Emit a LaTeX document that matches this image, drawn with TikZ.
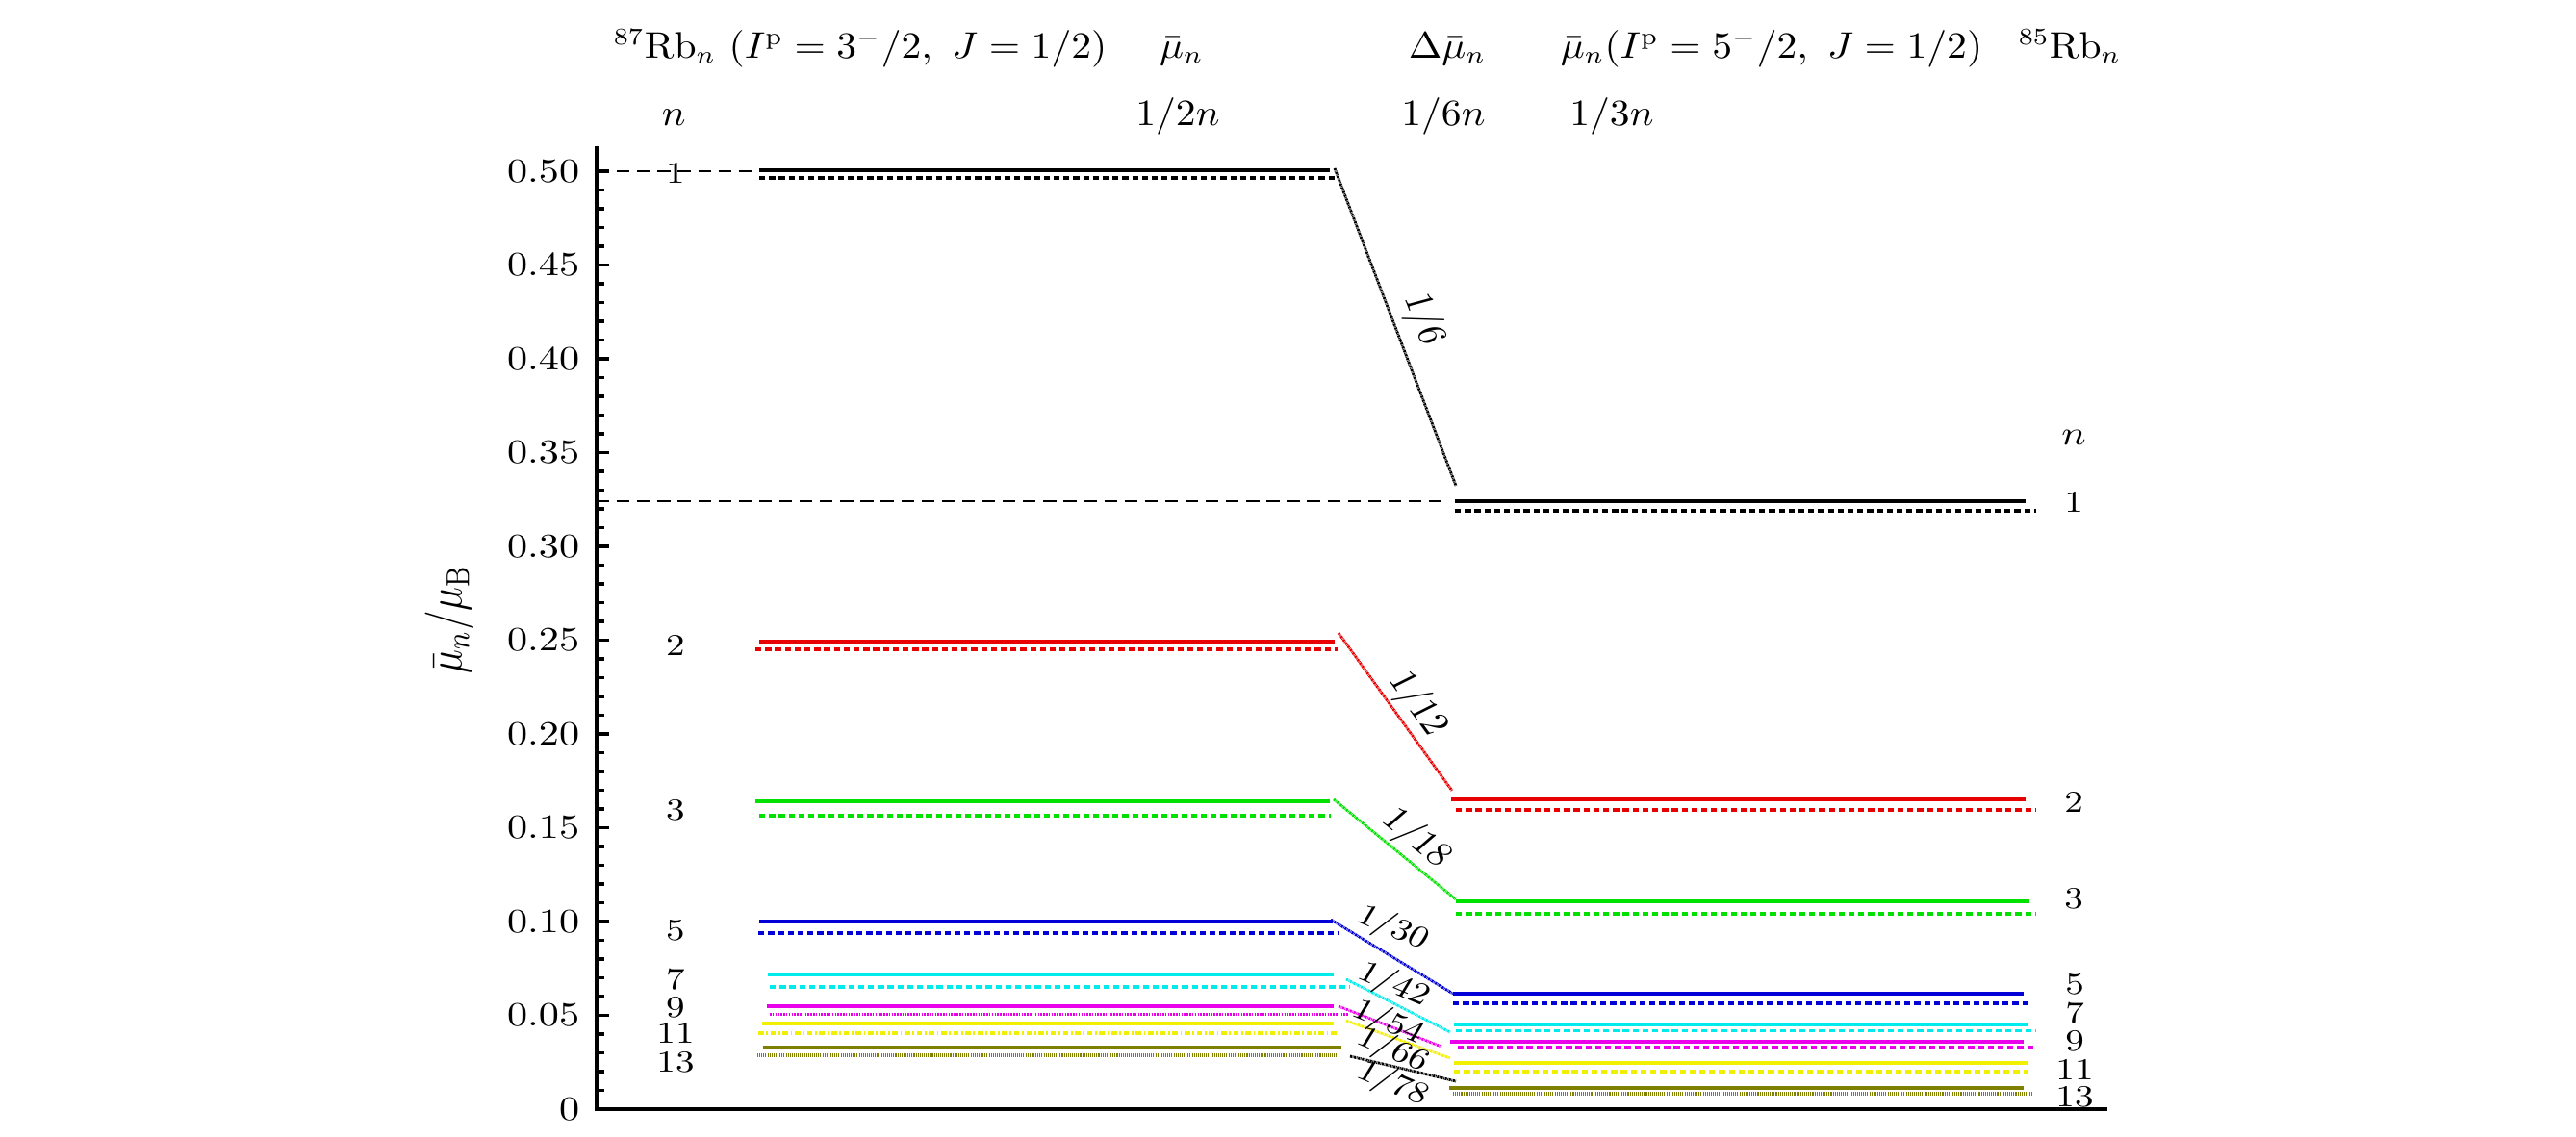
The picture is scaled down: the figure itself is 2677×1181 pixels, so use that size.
\documentclass[tikz,border=0pt]{standalone}
\usepackage{graphicx}
\definecolor{cR}{RGB}{232,0,0}
\definecolor{cG}{RGB}{0,225,0}
\definecolor{cB}{RGB}{0,0,215}
\definecolor{cC}{RGB}{0,235,235}
\definecolor{cM}{RGB}{235,0,235}
\definecolor{cY}{RGB}{240,240,0}
\definecolor{cO}{RGB}{128,128,0}
\begin{document}
\begin{tikzpicture}[x=0.01cm,y=-0.01cm,
  lvl/.style={line width=0.9pt},
  dsh/.style={line width=0.9pt,dash pattern=on 1.8pt off 1.1pt},
  dts/.style={line width=0.9pt,dash pattern=on 0.45pt off 0.35pt},
  fdt/.style={line width=1pt,dash pattern=on 0.3pt off 0.3pt},
  dshdt/.style={line width=0.9pt,dash pattern=on 1.6pt off 0.75pt on 0.5pt off 0.75pt},
  slant/.style={line width=0.8pt,dash pattern=on 0.6pt off 0.2pt on 0.2pt off 0.2pt},
  ldsh/.style={line width=0.8pt,dash pattern=on 3.8pt off 2.2pt},
  axisline/.style={line width=1pt},
  txt/.style={inner sep=0pt,xscale=1.2},
  head/.style={inner sep=0pt,xscale=1.08,font=\fontsize{10.5}{12}\selectfont},
  nlab/.style={txt,font=\small},
  bigfrac/.style={txt},
  smallfrac/.style={txt,font=\small}]
\useasboundingbox (0,0) rectangle (2677,1181);

% header
\node[head,anchor=base west] (h1) at (637,60) {$^{87}\mathrm{Rb}_n\ (I^{\mathrm{p}}=3^-/2,\ J=1/2)$};
\node[head,anchor=base] (h2) at (1228,60) {$\bar\mu_n$};
\node[head,anchor=base] (h3) at (1504,60) {$\Delta\bar\mu_n$};
\node[head,anchor=base west] (h4) at (1621,60) {$\bar\mu_n(I^{\mathrm{p}}=5^-/2,\ J=1/2)$};
\node[head,anchor=base west] (h5) at (2097,60) {$^{85}\mathrm{Rb}_n$};
\node[head,anchor=base] (s1) at (700,130) {$n$};
\node[head,anchor=base] (s2) at (1224,130) {$1/2n$};
\node[head,anchor=base] (s3) at (1500,130) {$1/6n$};
\node[head,anchor=base] (s4) at (1675,130) {$1/3n$};

% axes
\coordinate (ytop) at (620,152);
\coordinate (orig) at (620,1153);
\coordinate (xend) at (2190,1153);
\draw[axisline] (ytop) -- (orig) -- (xend);
\foreach \i in {1,...,50}{\draw[axisline] (620,{1153-19.5*\i}) -- ++(8,0);}
\foreach \i in {5,10,...,50}{\draw[axisline] (620,{1153-19.5*\i}) -- ++(13,0);}
\foreach \i/\t in {0/0,5/0.05,10/0.10,15/0.15,20/0.20,25/0.25,30/0.30,35/0.35,40/0.40,45/0.45,50/0.50}
  \node[txt,anchor=east] (tk\i) at (603,{1153-19.5*\i}) {$\t$};
\node[txt,rotate=90,font=\fontsize{11.5}{13}\selectfont] (ylab) at (467,644) {$\bar\mu_n/\mu_{\mathrm{B}}$};

% long dashed reference lines
\coordinate (a50) at (620,178);
\coordinate (b50) at (787,178);
\coordinate (a325) at (620,521);
\coordinate (b325) at (1500,521);
\draw[ldsh] (a50) -- (b50);
\draw[ldsh] (a325) -- (b325);

% left levels (87Rb)
\draw[lvl] (789,177) -- (1382,177);
\draw[dsh] (789,185) -- (1390,185);
\draw[lvl,cR] (789,667) -- (1387,667);
\draw[dsh,cR] (785,675) -- (1390,675);
\draw[lvl,cG] (785,833) -- (1382,833);
\draw[dsh,cG] (789,848) -- (1383,848);
\draw[lvl,cB] (789,958) -- (1385,958);
\draw[dsh,cB] (788,970) -- (1390,970);
\draw[lvl,cC] (798,1013) -- (1386,1013);
\draw[dsh,cC] (800,1026) -- (1403,1026);
\draw[lvl,cM] (797,1046) -- (1386,1046);
\draw[dts,cM] (800,1054.5) -- (1402,1054.5);
\draw[lvl,cY] (792,1064) -- (1386,1064);
\draw[dshdt,cY] (788,1074) -- (1391,1074);
\draw[lvl,cO] (793,1089) -- (1394,1089);
\draw[fdt,cO] (787,1097) -- (1390,1097);

% right levels (85Rb)
\draw[lvl] (1512,521) -- (2105,521);
\draw[dsh] (1512,531) -- (2116,531);
\draw[lvl,cR] (1508,831) -- (2105,831);
\draw[dsh,cR] (1513,842) -- (2116,842);
\draw[lvl,cG] (1513,937) -- (2109,937);
\draw[dsh,cG] (1513,950) -- (2116,950);
\draw[lvl,cB] (1510,1033) -- (2103,1033);
\draw[dsh,cB] (1510,1043) -- (2108,1043);
\draw[lvl,cC] (1511,1065) -- (2107,1065);
\draw[dsh,cC] (1513,1071.5) -- (2116,1071.5);
\draw[lvl,cM] (1507,1083) -- (2103,1083);
\draw[dsh,cM] (1515,1089) -- (2116,1089);
\draw[lvl,cY] (1511,1105) -- (2108,1105);
\draw[dsh,cY] (1511,1114) -- (2108,1114);
\draw[lvl,cO] (1506,1131) -- (2103,1131);
\draw[fdt,cO] (1510,1137) -- (2112,1137);

% slanted connectors
\coordinate (p1a) at (1387,175);  \coordinate (p1b) at (1513,505);
\coordinate (p2a) at (1391,658);  \coordinate (p2b) at (1509,822);
\coordinate (p3a) at (1386,831);  \coordinate (p3b) at (1513,935);
\coordinate (p5a) at (1383,956);  \coordinate (p5b) at (1510,1033);
\coordinate (p7a) at (1399,1018); \coordinate (p7b) at (1507,1073);
\coordinate (p9a) at (1391,1046); \coordinate (p9b) at (1498,1088);
\coordinate (p11a) at (1399,1061); \coordinate (p11b) at (1507,1100);
\coordinate (p13a) at (1403,1098); \coordinate (p13b) at (1513,1124);
\draw[slant] (p1a) -- (p1b);
\draw[slant,cR] (p2a) -- (p2b);
\draw[slant,cG] (p3a) -- (p3b);
\draw[slant,cB] (p5a) -- (p5b);
\draw[slant,cC] (p7a) -- (p7b);
\draw[slant,cM] (p9a) -- (p9b);
\draw[slant,cY] (p11a) -- (p11b);
\draw[slant] (p13a) -- (p13b);

% slope labels
\node[bigfrac,rotate=-72] (f1) at (1479,332) {$1/6$};
\node[bigfrac,rotate=-59] (f2) at (1473,732) {$1/12$};
\node[bigfrac,rotate=-44] (f3) at (1472,872) {$1/18$};
\node[smallfrac,rotate=-27] (f5) at (1447,965) {$1/30$};
\node[smallfrac,rotate=-27] (f7) at (1448,1024) {$1/42$};
\node[smallfrac,rotate=-27] (f9) at (1442,1063) {$1/54$};
\node[smallfrac,rotate=-27] (f11) at (1447,1092) {$1/66$};
\node[smallfrac,rotate=-27] (f13) at (1447,1127) {$1/78$};

% left n labels
\node[nlab] (l1) at (702,180) {1};
\node[nlab] (l2) at (702,671) {2};
\node[nlab] (l3) at (702,842) {3};
\node[nlab] (l5) at (702,967) {5};
\node[nlab] (l7) at (702,1018) {7};
\node[nlab] (l9) at (702,1047) {9};
\node[nlab] (l11) at (702,1074) {11};
\node[nlab] (l13) at (702,1104) {13};

% right n labels
\node[txt] (rn) at (2155,455) {$n$};
\node[nlab] (r1) at (2155,522) {1};
\node[nlab] (r2) at (2155,834) {2};
\node[nlab] (r3) at (2155,934) {3};
\node[nlab] (r5) at (2156,1023) {5};
\node[nlab] (r7) at (2156,1053) {7};
\node[nlab] (r9) at (2156,1082) {9};
\node[nlab] (r11) at (2156,1112) {11};
\node[nlab] (r13) at (2156,1140) {13};
\end{tikzpicture}
\end{document}
